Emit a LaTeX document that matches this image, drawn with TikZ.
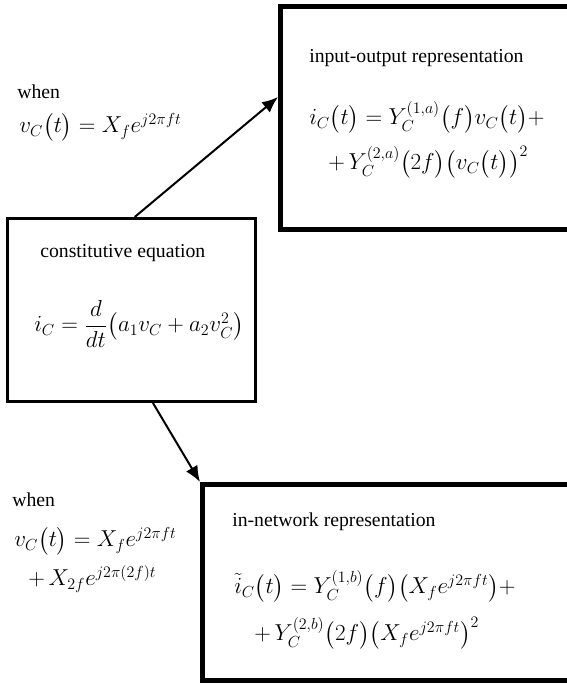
\documentclass[tikz,border=0pt]{standalone}
\usepackage{amsmath}
\usepackage{fontspec}
\setmainfont{Liberation Serif}
\usetikzlibrary{arrows.meta}
\begin{document}
\begin{tikzpicture}[x=0.75pt, y=-0.75pt,
  bigbox/.style={rectangle, draw=black, line width=3.75pt, inner sep=0pt},
  smallbox/.style={rectangle, draw=black, line width=2.3pt, inner sep=0pt},
  lbl/.style={inner sep=0pt, anchor=west, font=\fontsize{14.8}{17}\selectfont},
  eqn/.style={inner sep=0pt, anchor=west, font=\fontsize{17}{20}\selectfont},
  conn/.style={line width=1.5pt, -{Latex[length=12pt, width=10pt]}}]
\useasboundingbox (0,0) rectangle (567,686);

\node[bigbox, minimum width=289.5*0.75pt, minimum height=222.5*0.75pt](io) at (425.25,117.75) {};
\node[smallbox, minimum width=248*0.75pt, minimum height=183*0.75pt](ce) at (131.5,310) {};
\node[bigbox, minimum width=367.5*0.75pt, minimum height=196*0.75pt](inn) at (386.25,582.5) {};

% input-output box
\node[lbl](iolbl) at (309,58) {input-output representation};
\node[eqn](ioa) at (309,117) {$i_C\big(t\big) = Y_C^{(1,a)}\big(f\big)v_C\big(t\big) +$};
\node[eqn](iob) at (328,162) {$+\,Y_C^{(2,a)}\big(2f\big)\big(v_C\big(t\big)\big)^2$};

% constitutive box
\node[lbl](celbl) at (40,253) {constitutive equation};
\node[eqn](cea) at (34,324) {$i_C = \dfrac{d}{dt}\big(a_1v_C + a_2v_C^2\big)$};

% in-network box
\node[lbl](innlbl) at (232,522) {in-network representation};
\node[eqn](inna) at (234,586) {$\tilde{i}_C\big(t\big) = Y_C^{(1,b)}\big(f\big)\big(X_f e^{j2\pi ft}\big) +$};
\node[eqn](innb) at (254,633) {$+\,Y_C^{(2,b)}\big(2f\big)\big(X_f e^{j2\pi ft}\big)^2$};

% excitation labels
\node[lbl](when1) at (17,92) {when};
\node[eqn](vc1) at (19,127) {$v_C\big(t\big) = X_f e^{j2\pi ft}$};
\node[lbl](when2) at (12,500) {when};
\node[eqn](vc2a) at (14,541) {$v_C\big(t\big) = X_f e^{j2\pi ft}$};
\node[eqn](vc2b) at (28,579) {$+\,X_{2f} e^{j2\pi(2f)t}$};

\draw[conn] (ce.88) to (io.172);
\draw[conn] (ce.-77) to (inn.north west);

\end{tikzpicture}
\end{document}
